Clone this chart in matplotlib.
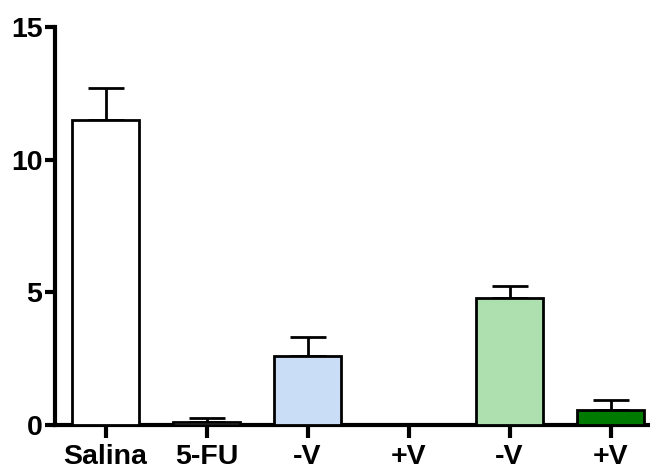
import numpy as np
import matplotlib
matplotlib.use('Agg')
import matplotlib.pyplot as plt

plt.rcParams['font.family'] = ['Liberation Sans', 'DejaVu Sans']

# DATA ######################################################################
labels = ['Salina', '5-FU', '-V', '+V', '-V', '+V']
means = [11.5, 0.13, 2.61, 0.0, 4.8, 0.57]
sem = [1.2, 0.15, 0.69, 0.0, 0.45, 0.38]
colors = ['white', 'white', '#c9ddf6', 'white', '#aedfae', '#007a00']
yticks = [0, 5, 10, 15]

# FIGURE ####################################################################
fig = plt.figure(figsize=(6.5, 4.7), dpi=100)
ax = fig.add_axes([55/650, 1-425/470, 1-55/650, (425-27)/470])

x = np.arange(len(labels))
ax.bar(x, means, width=0.66, color=colors, edgecolor='black',
       linewidth=2.0, zorder=3)
ax.errorbar(x, means, yerr=[np.zeros(len(sem)), sem], fmt='none',
            ecolor='black', elinewidth=2.0, capsize=13, capthick=2.0,
            zorder=2)

ax.set_xlim(-0.5, 5.39)
ax.set_ylim(0, 15)
ax.set_xticks(x)
ax.set_xticklabels(labels)
ax.set_yticks(yticks)

for s in ['top', 'right']:
    ax.spines[s].set_visible(False)
for s in ['left', 'bottom']:
    ax.spines[s].set_linewidth(3)

ax.tick_params(axis='y', length=7, width=3, pad=2,
               labelsize=20.5)
ax.tick_params(axis='x', length=9, width=3, pad=5,
               labelsize=20.5)
for t in ax.get_xticklabels() + ax.get_yticklabels():
    t.set_fontweight('bold')

fig.savefig('out.png', dpi=100)
